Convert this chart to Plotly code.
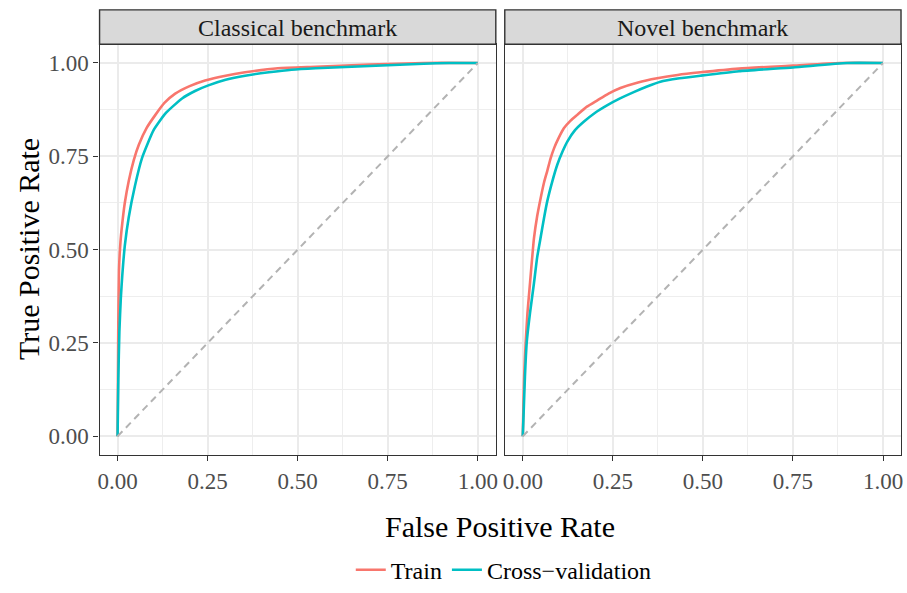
import plotly.graph_objects as go

# ---- data ----
panels = ["Classical benchmark", "Novel benchmark"]
series = ["Train", "Cross\u2212validation"]

classical_train_fpr = [0, 0.001, 0.002, 0.004, 0.008, 0.013, 0.02, 0.031, 0.045, 0.059, 0.08, 0.105, 0.13, 0.16, 0.2, 0.243, 0.3, 0.354, 0.445, 0.55, 0.65, 0.75, 0.85, 1.0]
classical_train_tpr = [0, 0.15, 0.3, 0.447, 0.52, 0.57, 0.625, 0.684, 0.74, 0.781, 0.825, 0.861, 0.893, 0.918, 0.938, 0.953, 0.966, 0.975, 0.986, 0.99, 0.994, 0.997, 1.0, 1.0]

classical_cv_fpr = [0, 0.002, 0.005, 0.009, 0.013, 0.02, 0.031, 0.048, 0.068, 0.1, 0.133, 0.179, 0.215, 0.252, 0.3, 0.354, 0.42, 0.483, 0.55, 0.65, 0.75, 0.85, 0.92, 1.0]
classical_cv_tpr = [0, 0.15, 0.28, 0.37, 0.43, 0.51, 0.587, 0.67, 0.746, 0.82, 0.865, 0.905, 0.925, 0.94, 0.955, 0.966, 0.975, 0.982, 0.986, 0.99, 0.994, 0.998, 1.0, 1.0]

novel_train_fpr = [0, 0.002, 0.004, 0.008, 0.013, 0.02, 0.031, 0.04, 0.05, 0.059, 0.068, 0.077, 0.087, 0.1, 0.114, 0.132, 0.151, 0.178, 0.207, 0.238, 0.271, 0.32, 0.373, 0.43, 0.493, 0.6, 0.75, 0.88, 1.0]
novel_train_tpr = [0, 0.09, 0.164, 0.25, 0.33, 0.41, 0.53, 0.59, 0.64, 0.68, 0.711, 0.744, 0.772, 0.8, 0.825, 0.845, 0.861, 0.883, 0.9, 0.918, 0.933, 0.948, 0.959, 0.968, 0.975, 0.985, 0.993, 1.0, 1.0]

novel_cv_fpr = [0, 0.003, 0.006, 0.011, 0.02, 0.031, 0.04, 0.05, 0.059, 0.068, 0.082, 0.096, 0.11, 0.124, 0.145, 0.17, 0.2, 0.235, 0.27, 0.308, 0.345, 0.382, 0.435, 0.493, 0.6, 0.75, 0.9, 1.0]
novel_cv_tpr = [0, 0.08, 0.16, 0.252, 0.33, 0.41, 0.48, 0.535, 0.585, 0.63, 0.683, 0.728, 0.762, 0.79, 0.82, 0.843, 0.866, 0.887, 0.905, 0.922, 0.937, 0.95, 0.959, 0.966, 0.978, 0.988, 1.0, 1.0]

diag = [0, 1]

tick_vals = [0, 0.25, 0.5, 0.75, 1.0]
tick_text = ["0.00", "0.25", "0.50", "0.75", "1.00"]

colors = ["#F8766D", "#00BFC4"]
FONT = "Liberation Serif, Times New Roman, serif"

W, H = 907, 593
def px(x):
    return x / W
def py(y):
    return 1 - y / H

dom_x = [[px(98), px(496)], [px(505), px(903)]]
dom_y = [py(462), py(45)]

fig = go.Figure()

data = [
    [(classical_train_fpr, classical_train_tpr), (classical_cv_fpr, classical_cv_tpr)],
    [(novel_train_fpr, novel_train_tpr), (novel_cv_fpr, novel_cv_tpr)],
]

for p in range(2):
    xa = "x" if p == 0 else "x2"
    ya = "y" if p == 0 else "y2"
    for s in range(2):
        fx, ty = data[p][s]
        fig.add_trace(go.Scatter(
            x=fx, y=ty, mode="lines", name=series[s],
            line=dict(color=colors[s], width=2.6, shape="spline", smoothing=0.5),
            legendgroup=series[s], showlegend=(p == 0),
            xaxis=xa, yaxis=ya, hoverinfo="skip"))
    fig.add_trace(go.Scatter(
        x=diag, y=diag, mode="lines", showlegend=False,
        line=dict(color="#B3B3B3", width=2, dash="7px,5px"),
        xaxis=xa, yaxis=ya, hoverinfo="skip"))

axis_common = dict(
    range=[-0.05, 1.05], tickvals=tick_vals, ticktext=tick_text,
    showgrid=True, gridcolor="#EBEBEB", gridwidth=2,
    minor=dict(tick0=0.125, dtick=0.25, showgrid=True, gridcolor="#EEEEEE", gridwidth=1, ticks=""),
    zeroline=False, showline=True, linecolor="#333333", linewidth=1.4, mirror=True,
    ticks="outside", ticklen=5, tickwidth=1.2, tickcolor="#333333",
    tickfont=dict(family=FONT, size=23, color="#4D4D4D"),
    fixedrange=True,
)

layout = dict(
    width=W, height=H,
    margin=dict(l=0, r=0, t=0, b=0),
    paper_bgcolor="white", plot_bgcolor="white",
    font=dict(family=FONT),
    xaxis=dict(domain=dom_x[0], anchor="y", **axis_common),
    yaxis=dict(domain=dom_y, anchor="x", **axis_common),
    xaxis2=dict(domain=dom_x[1], anchor="y2", **axis_common),
    yaxis2=dict(domain=dom_y, anchor="x2", **{**axis_common, "showticklabels": False, "ticks": ""}),
    legend=dict(orientation="h", x=px(504), xanchor="center", y=py(579), yanchor="middle",
                font=dict(family=FONT, size=24, color="black"),
                bgcolor="rgba(0,0,0,0)", itemwidth=30, tracegroupgap=0),
    showlegend=True,
)
fig.update_layout(**layout)

# strips
for p in range(2):
    fig.add_shape(type="rect", xref="paper", yref="paper",
                  x0=dom_x[p][0], x1=dom_x[p][1], y0=py(45), y1=py(10),
                  fillcolor="#D9D9D9", line=dict(color="#333333", width=1.4), layer="above")
    fig.add_annotation(text=panels[p], xref="paper", yref="paper",
                       x=(dom_x[p][0] + dom_x[p][1]) / 2, y=py(28),
                       showarrow=False, font=dict(family=FONT, size=24, color="#1A1A1A"),
                       xanchor="center", yanchor="middle")

# axis titles
fig.add_annotation(text="False Positive Rate", xref="paper", yref="paper",
                   x=px(500), y=py(535), showarrow=False,
                   font=dict(family=FONT, size=30, color="black"),
                   xanchor="center", yanchor="middle")
fig.add_annotation(text="True Positive Rate", xref="paper", yref="paper",
                   x=px(26), y=py(253), showarrow=False, textangle=-90,
                   font=dict(family=FONT, size=30, color="black"),
                   xanchor="center", yanchor="middle")

fig.write_html("out.html")
